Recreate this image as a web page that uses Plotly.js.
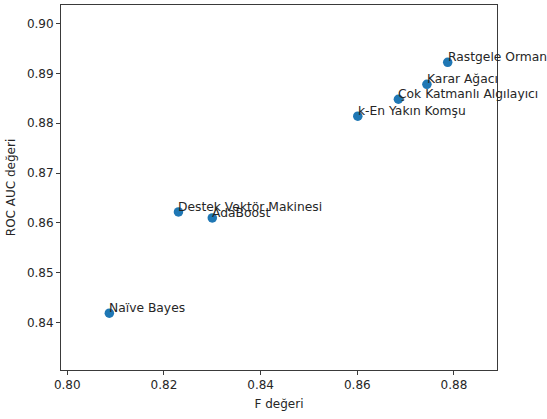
<!DOCTYPE html>
<html>
<head>
<meta charset="utf-8">
<script src="https://cdn.plot.ly/plotly-3.0.1.min.js"></script>
<style>html,body{margin:0;padding:0;background:#fff;}</style>
</head>
<body>
<div id="chart" style="width:547px;height:419px;"></div>
<script>
// Classifier results: F score vs ROC AUC
const models = ["Naïve Bayes", "Destek Vektör Makinesi", "AdaBoost", "k-En Yakın Komşu",
                "Çok Katmanlı Algılayıcı", "Karar Ağacı", "Rastgele Orman"];
const fScores = [0.8087, 0.8230, 0.8300, 0.8601, 0.8685, 0.8744, 0.8787];
const rocAuc  = [0.8419, 0.8622, 0.8610, 0.8814, 0.8848, 0.8878, 0.8922];
const xTicks = [0.80, 0.82, 0.84, 0.86, 0.88];
const yTicks = [0.84, 0.85, 0.86, 0.87, 0.88, 0.89, 0.90];

const font = {family: "DejaVu Sans", size: 12, color: "#262626"};
const labelFont = {family: "DejaVu Sans", size: 12.3, color: "#262626"};
const axisLine = "#3a3a3a";

const trace = {
  x: fScores, y: rocAuc, type: "scatter", mode: "markers",
  marker: {color: "#1f77b4", size: 9.5},
  hoverinfo: "skip"
};

// Labels sit with their baseline on the point, left-aligned
const annotations = models.map((m, i) => ({
  x: fScores[i], y: rocAuc[i], xref: "x", yref: "y",
  text: m, showarrow: false, xanchor: "left", yanchor: "bottom",
  xshift: -2, yshift: -4, font: labelFont
}));

const layout = {
  width: 547, height: 419,
  margin: {l: 61, r: 50, t: 5, b: 49},
  paper_bgcolor: "#fff", plot_bgcolor: "#fff",
  font: font,
  showlegend: false,
  xaxis: {
    range: [0.7987, 0.8889], tickvals: xTicks, tickformat: ".2f",
    showgrid: false, zeroline: false,
    showline: true, mirror: true, linecolor: axisLine, linewidth: 1,
    ticks: "outside", ticklen: 4, tickcolor: axisLine,
    title: {text: "F değeri", font: font, standoff: 8}
  },
  yaxis: {
    range: [0.8305, 0.9037], tickvals: yTicks, tickformat: ".2f",
    showgrid: false, zeroline: false,
    showline: true, mirror: true, linecolor: axisLine, linewidth: 1,
    ticks: "outside", ticklen: 4, tickcolor: axisLine,
    title: {text: "ROC AUC değeri", font: font, standoff: 8}
  },
  annotations: annotations
};

Plotly.newPlot("chart", [trace], layout, {displayModeBar: false, staticPlot: true});
</script>
</body>
</html>
